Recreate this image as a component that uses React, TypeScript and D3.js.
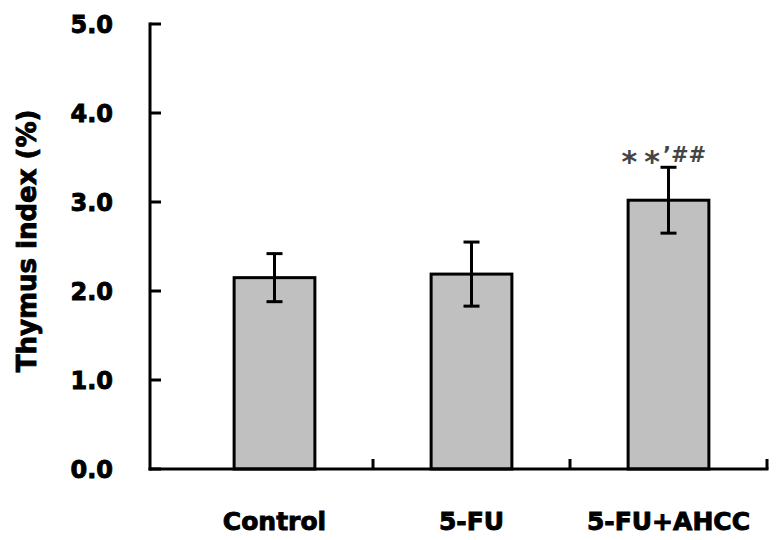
import React, { useRef, useEffect } from "react";
import * as d3 from "d3";

// group names, means and SD
const groups = ["Control", "5-FU", "5-FU+AHCC"];
const means = [2.15, 2.19, 3.02];
const sds = [0.27, 0.36, 0.37];
const yTicks = [0, 1, 2, 3, 4, 5];
const marks = ["", "", "**,##"];

const W = 776;
const H = 540;
const FONT = "'DejaVu Sans', Arial, sans-serif";

const ThymusChart = () => {
    const ref = useRef(null);

    useEffect(() => {
        const svg = d3.select(ref.current);
        svg.selectAll("*").remove();

        const axisX = 150;
        const baseY = 469;

        const yScale = d3.scaleLinear().domain([0, 5]).range([baseY, 24]);
        const xScale = d3.scaleBand().domain(groups).range([176, 767]).padding(0);
        const barW = xScale.bandwidth() * 0.41;
        const cx = (g) => xScale(g) + xScale.bandwidth() / 2;

        // heavy bold text, the original font is blacker than DejaVu Bold
        const heavy = (sel, size) => sel
            .style("font-family", FONT)
            .style("font-weight", "bold")
            .style("font-size", size + "px")
            .attr("stroke", "#000")
            .attr("stroke-width", 0.9)
            .attr("paint-order", "stroke");

        // bars
        svg.append("g")
            .selectAll("rect")
            .data(groups)
            .join("rect")
            .attr("x", (d) => cx(d) - barW / 2)
            .attr("y", (d, i) => yScale(means[i]))
            .attr("width", barW)
            .attr("height", (d, i) => baseY - yScale(means[i]))
            .attr("fill", "#c0c0c0")
            .attr("stroke", "#000")
            .attr("stroke-width", 3);

        // error bars (mean +/- sd)
        const capW = 16;
        const err = svg.append("g").attr("stroke", "#000").attr("stroke-width", 3);
        groups.forEach((g, i) => {
            const x = cx(g);
            const top = yScale(means[i] + sds[i]);
            const bot = yScale(means[i] - sds[i]);
            err.append("line").attr("x1", x).attr("x2", x).attr("y1", top).attr("y2", bot);
            err.append("line").attr("x1", x - capW / 2).attr("x2", x + capW / 2).attr("y1", top).attr("y2", top);
            err.append("line").attr("x1", x - capW / 2).attr("x2", x + capW / 2).attr("y1", bot).attr("y2", bot);
        });

        // y axis, ticks point inward
        const yAxis = svg.append("g");
        yAxis.append("line")
            .attr("x1", axisX).attr("x2", axisX)
            .attr("y1", yScale(5) - 1.5).attr("y2", baseY + 1.5)
            .attr("stroke", "#000").attr("stroke-width", 3);
        yAxis.selectAll(".tick")
            .data(yTicks)
            .join("line")
            .attr("x1", axisX).attr("x2", axisX + 11)
            .attr("y1", (d) => yScale(d)).attr("y2", (d) => yScale(d))
            .attr("stroke", "#000").attr("stroke-width", 3);
        yAxis.selectAll("text")
            .data(yTicks)
            .join("text")
            .attr("x", 113)
            .attr("y", (d) => yScale(d))
            .attr("dy", "0.36em")
            .attr("text-anchor", "end")
            .call(heavy, 24)
            .text((d) => d.toFixed(1));

        // x axis with small upward ticks between groups
        const xAxis = svg.append("g");
        xAxis.append("line")
            .attr("x1", axisX - 1.5).attr("x2", xScale.range()[1] + 1.5)
            .attr("y1", baseY).attr("y2", baseY)
            .attr("stroke", "#000").attr("stroke-width", 3);
        const bounds = groups.slice(1).map((g) => xScale(g)).concat([xScale.range()[1]]);
        xAxis.selectAll(".tick")
            .data(bounds)
            .join("line")
            .attr("x1", (d) => d).attr("x2", (d) => d)
            .attr("y1", baseY).attr("y2", baseY - 10)
            .attr("stroke", "#000").attr("stroke-width", 3);
        xAxis.selectAll("text")
            .data(groups)
            .join("text")
            .attr("x", (d) => cx(d))
            .attr("y", 530)
            .attr("text-anchor", "middle")
            .call(heavy, 25)
            .text((d) => d);

        // y title
        svg.append("text")
            .attr("transform", "translate(36," + 241 + ") rotate(-90)")
            .attr("text-anchor", "middle")
            .call(heavy, 26)
            .text("Thymus index (%)");

        // significance marks above the error bars
        groups.forEach((g, i) => {
            if (!marks[i]) return;
            const x = cx(g);
            const y = yScale(means[i] + sds[i]) - 5;
            const t = svg.append("text")
                .attr("x", x - 47)
                .attr("y", y)
                .attr("fill", "#444")
                .style("font-family", FONT)
                .style("font-weight", "bold");
            const [stars, hashes] = marks[i].split(",");
            stars.split("").forEach((s, k) => {
                t.append("tspan")
                    .attr("dx", k === 0 ? 0 : 7)
                    .attr("dy", k === 0 ? 10 : 0)
                    .style("font-size", "30px")
                    .text(s);
            });
            t.append("tspan").attr("dx", 3).attr("dy", -10).style("font-size", "21px").text("\u2019" + hashes);
        });
    }, []);

    return (
        <svg ref={ref} width={W} height={H}
            style={{ position: "absolute", left: 0, top: 0, background: "#fff" }} />
    );
};

export default function App() {
    return <ThymusChart />;
}
